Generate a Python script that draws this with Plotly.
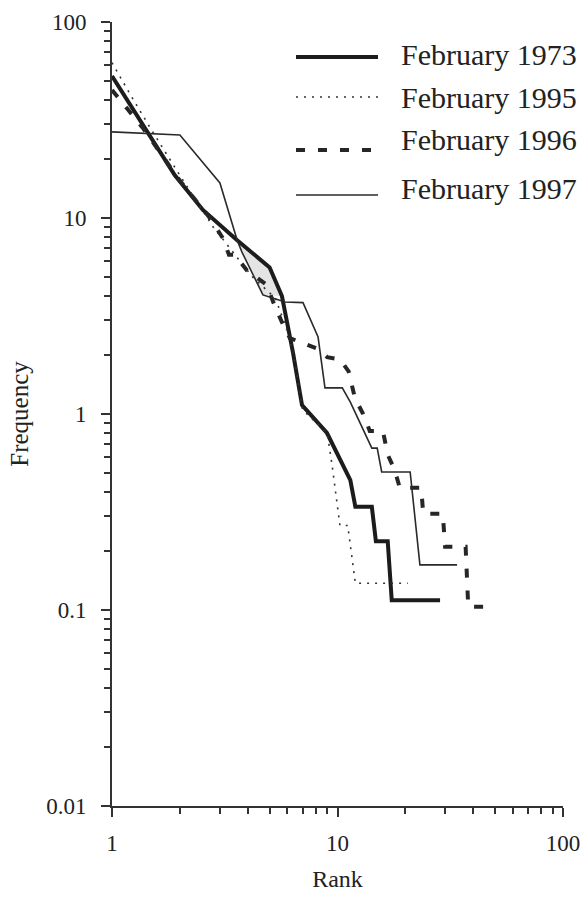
import plotly.graph_objects as go

# ---------------- data ----------------
series_names = ["February 1973", "February 1995", "February 1996", "February 1997"]

rank_1973 = [1, 1.47, 1.9, 2.53, 3.59, 5.0, 5.67, 6.35, 6.96, 8.98, 9.95, 11.4, 12.0, 14.2, 14.8, 16.7, 17.4, 28.5]
freq_1973 = [53, 26.5, 16.5, 11.0, 7.7, 5.6, 4.0, 2.05, 1.11, 0.80, 0.63, 0.46, 0.336, 0.336, 0.224, 0.224, 0.112, 0.112]

rank_1995 = [1, 1.2, 1.5, 2.0, 2.81, 3.59, 4.2, 5.3, 5.9, 6.4, 7.0, 9.0, 9.46, 10.25, 11.1, 12.0, 20.5]
freq_1995 = [62, 43, 28, 16.5, 9.0, 6.3, 5.0, 3.9, 2.8, 2.0, 1.05, 0.80, 0.55, 0.27, 0.27, 0.137, 0.137]

rank_1996 = [1, 1.18, 1.37, 2.0, 2.7, 3.1, 3.3, 3.5, 3.97, 4.86, 5.2, 5.67, 6.15, 7.0, 8.2, 9.0, 10.25,
             11.2, 11.96, 13.0, 13.9, 15.9, 16.7, 17.9, 18.9, 23.5, 24.0, 29.3, 30.0, 37.0, 38.0, 46.5]
freq_1996 = [45, 35.6, 28.8, 15.5, 10.1, 7.9, 6.5, 6.5, 5.4, 4.55, 3.7, 2.94, 2.44, 2.3, 2.15, 1.95, 1.9,
             1.65, 1.2, 1.0, 0.82, 0.82, 0.62, 0.52, 0.42, 0.42, 0.31, 0.31, 0.21, 0.21, 0.104, 0.104]

rank_1997 = [1, 2.0, 3.01, 3.59, 3.77, 4.67, 5.85, 7.03, 8.2, 8.8, 10.5, 11.4, 14.2, 15.0, 15.7, 21.0, 23.2, 33.9]
freq_1997 = [27.5, 26.5, 15.1, 7.7, 6.7, 4.05, 3.73, 3.7, 2.47, 1.36, 1.36, 1.15, 0.67, 0.67, 0.506, 0.506, 0.17, 0.17]

x_tick_vals = [1, 10, 100]
x_tick_text = ["1", "10", "100"]
y_tick_vals = [0.01, 0.1, 1, 10, 100]
y_tick_text = ["0.01", "0.1", "1", "10", "100"]

# ---------------- styling ----------------
FONT = "Liberation Serif"
INK = "#222222"
AXIS = "#333333"

styles = [
    dict(color="#1c1c1c", width=4, dash="solid"),
    dict(color="#333333", width=1.6, dash="2px,6px"),
    dict(color="#262626", width=4, dash="9px,13px"),
    dict(color="#2a2a2a", width=1.6, dash="solid"),
]
xs = [rank_1973, rank_1995, rank_1996, rank_1997]
ys = [freq_1973, freq_1995, freq_1996, freq_1997]

fig = go.Figure()

# light grey lens between the 1973 and 1997 curves (scan shading)
lo, hi = 3.59, 5.7
top = [(x, y) for x, y in zip(rank_1973, freq_1973) if lo <= x <= hi]
bot = [(x, y) for x, y in zip(rank_1997, freq_1997) if lo < x <= hi][::-1]
poly = top + bot + [top[0]]
fig.add_trace(go.Scatter(x=[p[0] for p in poly], y=[p[1] for p in poly], mode="lines",
                         fill="toself", fillcolor="#e4e4e4", line=dict(width=0),
                         hoverinfo="skip", showlegend=False))

for name, x, y, st in zip(series_names, xs, ys, styles):
    fig.add_trace(go.Scatter(x=x, y=y, mode="lines", name=name, line=st, showlegend=False))

# ---------------- layout ----------------
L, R, T, B = 112, 23, 22, 96
W, H = 586, 902
pw, ph = W - L - R, H - T - B

def px2paper(px, py):
    return (px - L) / pw, (H - B - py) / ph

minor_x = [m * 10 ** e for e in range(0, 2) for m in range(2, 10)]
minor_y = [m * 10 ** e for e in range(-2, 2) for m in range(2, 10)]

axis_common = dict(
    showline=True, linecolor=AXIS, linewidth=2, mirror=False,
    ticks="outside", ticklen=9, tickwidth=1.5, tickcolor=AXIS,
    showgrid=False, zeroline=False,
    tickfont=dict(family=FONT, size=23, color=INK),
    tickmode="array",
)

fig.update_xaxes(type="log", range=[0, 2], tickvals=x_tick_vals, ticktext=x_tick_text,
                 minor=dict(tickvals=minor_x, ticks="outside", ticklen=6, tickwidth=1.5, tickcolor=AXIS, showgrid=False),
                 ticklabelstandoff=6,
                 title=dict(text="Rank", font=dict(family=FONT, size=24, color=INK), standoff=16),
                 **axis_common)
fig.update_yaxes(type="log", range=[-2, 2], tickvals=y_tick_vals, ticktext=y_tick_text,
                 minor=dict(tickvals=minor_y, ticks="outside", ticklen=6, tickwidth=1.5, tickcolor=AXIS, showgrid=False),
                 ticklabelstandoff=10,
                 title=dict(text="Frequency", font=dict(family=FONT, size=25, color=INK), standoff=10),
                 **axis_common)

# manual legend (long line samples as in the reference)
legend_line_y = [57, 97, 150, 195]
legend_text_y = [55, 97, 139, 188]
shapes, annots = [], []
for name, st, ly, ty in zip(series_names, styles, legend_line_y, legend_text_y):
    x0, y0 = px2paper(296, ly)
    x1, _ = px2paper(378, ly)
    shapes.append(dict(type="line", xref="paper", yref="paper", x0=x0, x1=x1, y0=y0, y1=y0,
                       line=dict(color=st["color"], width=st["width"], dash=st["dash"])))
    tx, tyy = px2paper(399, ty)
    annots.append(dict(xref="paper", yref="paper", x=tx, y=tyy, xanchor="left", yanchor="middle",
                       text=name, showarrow=False, font=dict(family=FONT, size=30, color=INK)))

fig.update_layout(
    width=W, height=H,
    margin=dict(l=L, r=R, t=T, b=B, autoexpand=False),
    paper_bgcolor="white", plot_bgcolor="white",
    showlegend=False,
    shapes=shapes, annotations=annots,
    font=dict(family=FONT, color=INK),
)

fig.write_html("out.html")
